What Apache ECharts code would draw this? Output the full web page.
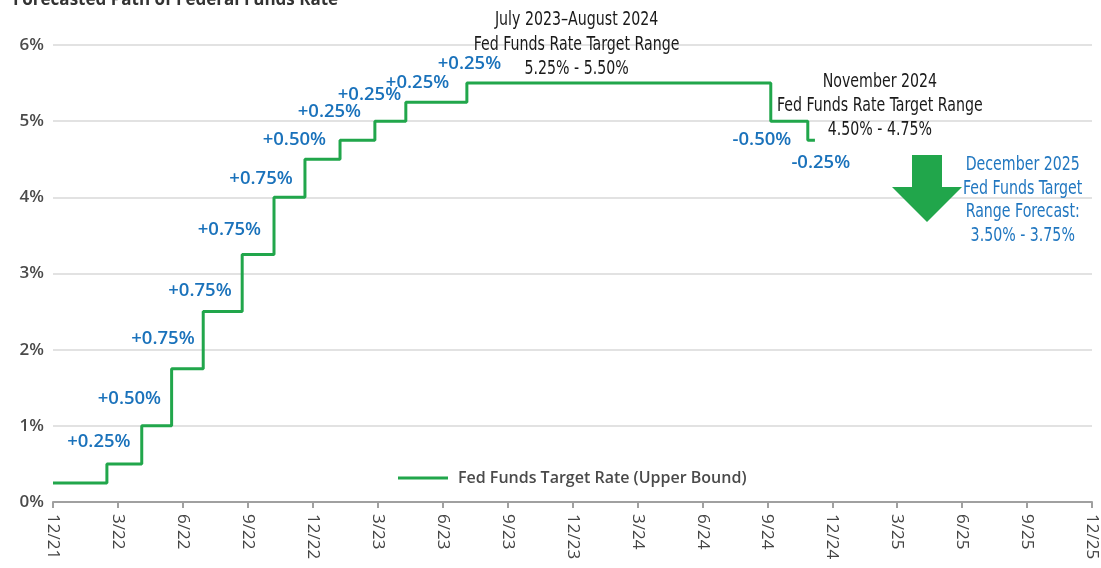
<!DOCTYPE html>
<html>
<head>
<meta charset="utf-8">
<script src="https://cdn.jsdelivr.net/npm/echarts@6/dist/echarts.min.js"></script>
<style>
  html, body { margin: 0; padding: 0; background: #fff; }
  #chart { width: 1101px; height: 568px; }
</style>
</head>
<body>
<div id="chart"></div>
<script>
// x is months since Dec 2021
const tickLabels = ["12/21", "3/22", "6/22", "9/22", "12/22", "3/23", "6/23", "9/23",
  "12/23", "3/24", "6/24", "9/24", "12/24", "3/25", "6/25", "9/25", "12/25"];
const stepMonths = [0, 2.49, 4.1, 5.48, 6.94, 8.74, 10.21, 11.64, 13.26, 14.87, 16.3, 19.12, 33.16, 34.87, 35.2];
const upperBound = [0.25, 0.5, 1.0, 1.75, 2.5, 3.25, 4.0, 4.5, 4.75, 5.0, 5.25, 5.5, 5.0, 4.75, 4.75];

const changeLabels = ["+0.25%", "+0.50%", "+0.75%", "+0.75%", "+0.75%", "+0.75%", "+0.50%",
  "+0.25%", "+0.25%", "+0.25%", "+0.25%", "-0.50%", "-0.25%"];
const changeLabelPos = [[2.12, 0.79], [3.53, 1.35], [5.08, 2.14], [6.79, 2.78], [8.15, 3.58],
  [9.61, 4.25], [11.15, 4.75], [12.77, 5.12], [14.62, 5.35], [16.84, 5.5], [19.24, 5.76],
  [32.75, 4.75], [35.47, 4.45]];

const noteTexts = [
  "July 2023\u2013August 2024\nFed Funds Rate Target Range\n5.25% - 5.50%",
  "November 2024\nFed Funds Rate Target Range\n4.50% - 4.75%",
  "December 2025\nFed Funds Target\nRange Forecast:\n3.50% - 3.75%"
];
const notePos = [[24.19, 6.0], [38.2, 5.2], [44.8, 3.96]];
const noteColors = ["#1a1a1a", "#1a1a1a", "#2177c0"];
const noteLineHeights = [24.5, 24, 23.5];

const blue = "#1a72bb";
const green = "#21a64b";
const sans = "'Open Sans', sans-serif";
const narrowFont = "normal normal condensed 19px 'DejaVu Sans', sans-serif";

const chart = echarts.init(document.getElementById("chart"));

chart.setOption({
  animation: false,
  title: {
    text: "Forecasted Path of Federal Funds Rate",
    left: 8,
    top: -13,
    textStyle: { fontFamily: sans, fontSize: 17, fontWeight: 700, color: "#333" }
  },
  grid: { left: 53, right: 9, top: 45, bottom: 66 },
  legend: {
    data: ["Fed Funds Target Rate (Upper Bound)"],
    left: 393,
    top: 465,
    icon: "rect",
    itemWidth: 50,
    itemHeight: 3,
    textStyle: { fontFamily: sans, fontSize: 16, fontWeight: 600, color: "#4a4a4a", padding: [0, 0, 0, 5] }
  },
  xAxis: {
    type: "value",
    min: 0,
    max: 48,
    interval: 3,
    splitLine: { show: false },
    axisLine: { show: true, lineStyle: { color: "#a0a0a0", width: 2 } },
    axisTick: { show: true, length: 6, lineStyle: { color: "#a0a0a0", width: 2 } },
    axisLabel: {
      rotate: -90,
      margin: 12,
      fontFamily: sans,
      fontSize: 17,
      color: "#444",
      formatter: v => tickLabels[Math.round(v / 3)]
    }
  },
  yAxis: {
    type: "value",
    min: 0,
    max: 6,
    interval: 1,
    axisLine: { show: false },
    axisTick: { show: false },
    splitLine: { lineStyle: { color: "#d8d8d8", width: 1.5 } },
    axisLabel: {
      margin: 9,
      fontFamily: sans,
      fontSize: 17,
      fontWeight: 600,
      color: "#4a4a4a",
      formatter: "{value}%"
    }
  },
  graphic: [
    {
      type: "polygon",
      zlevel: 1,
      shape: {
        points: [[912, 155], [942, 155], [942, 187], [962, 187], [927, 222], [892, 187], [912, 187]]
      },
      style: { fill: green }
    }
  ],
  series: [
    {
      name: "Fed Funds Target Rate (Upper Bound)",
      type: "line",
      step: "end",
      symbol: "none",
      data: stepMonths.map((m, i) => [m, upperBound[i]]),
      lineStyle: { color: green, width: 3 },
      itemStyle: { color: green }
    },
    {
      name: "changes",
      type: "scatter",
      silent: true,
      symbolSize: 1,
      itemStyle: { color: "transparent", opacity: 1 },
      label: {
        show: true,
        position: "inside",
        align: "center",
        verticalAlign: "middle",
        color: blue,
        fontFamily: sans,
        fontWeight: 600,
        fontSize: 18.5,
        formatter: p => changeLabels[p.dataIndex]
      },
      data: changeLabelPos
    },
    {
      name: "notes",
      type: "custom",
      silent: true,
      data: notePos.map((p, i) => [p[0], p[1], i]),
      renderItem: (params, api) => {
        const pt = api.coord([api.value(0), api.value(1)]);
        const i = api.value(2);
        return {
          type: "text",
          x: pt[0],
          y: pt[1],
          scaleX: 0.83,
          style: {
            text: noteTexts[i],
            fill: noteColors[i],
            font: narrowFont,
            lineHeight: noteLineHeights[i],
            align: "center",
            verticalAlign: "middle"
          }
        };
      }
    }
  ]
});
</script>
</body>
</html>
